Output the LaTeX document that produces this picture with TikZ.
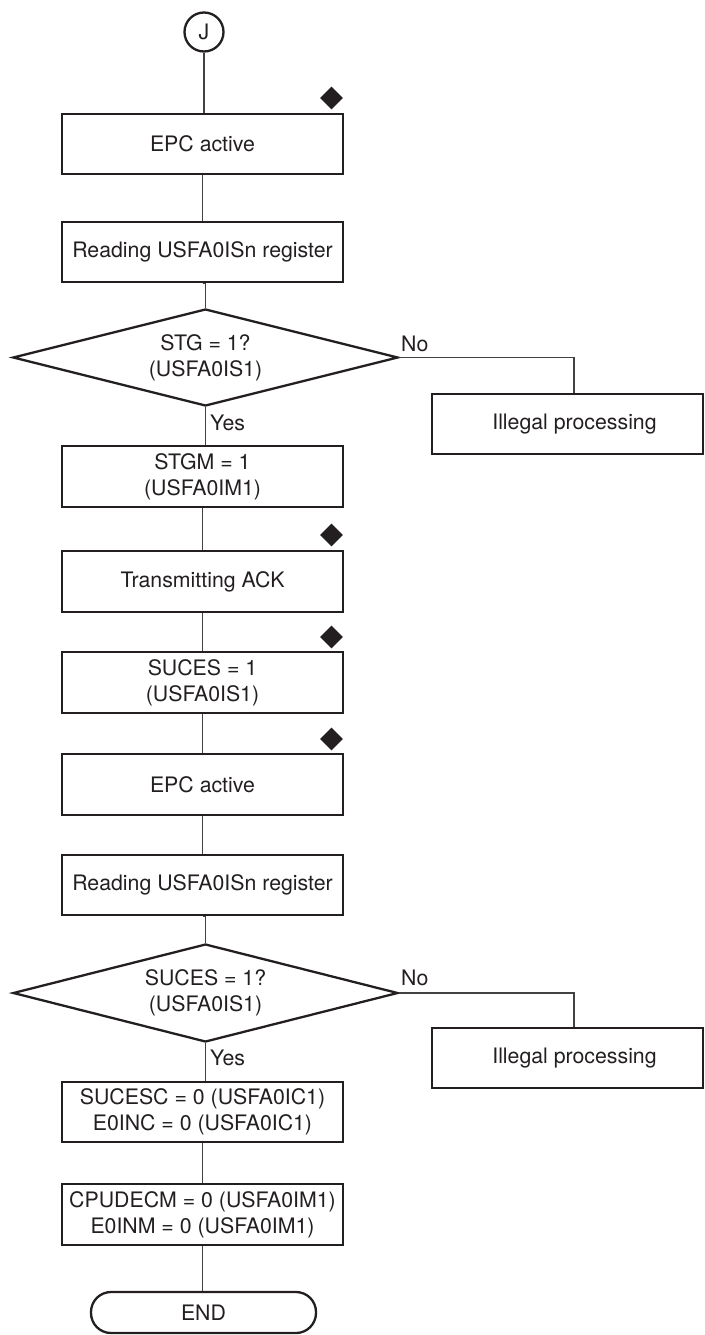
\documentclass[tikz,border=0pt]{standalone}
\usepackage{fontspec}
\setmainfont{TeX Gyre Heros}
\usetikzlibrary{shapes.geometric}
\definecolor{ink}{HTML}{231F20}
\tikzset{
  every node/.style={text=ink, font=\fontsize{21.3}{26}\selectfont},
  procbox/.style={draw=ink, line width=2.3pt, rectangle, minimum width=281pt,
    minimum height=60pt, inner sep=0pt, align=center},
  sidebox/.style={procbox, minimum width=271pt},
  decision/.style={draw=ink, line width=2.3pt, diamond, aspect=4, inner sep=0pt,
    minimum width=385pt, minimum height=97pt, align=center},
  marker/.style={diamond, fill=ink, draw=none, inner sep=0pt, minimum size=23pt},
  terminal/.style={draw=ink, line width=2.3pt, rectangle, rounded corners=20pt,
    minimum width=225pt, minimum height=41pt, inner sep=0pt},
  connector/.style={draw=ink!85, line width=1.1pt},
  branchlabel/.style={anchor=base west, inner sep=0pt}
}
\begin{document}
\begin{tikzpicture}[x=1pt, y=-1pt]
  \useasboundingbox (0,0) rectangle (704,1335);

  % main column
  \node[draw=ink, line width=2.3pt, circle, minimum size=39pt, inner sep=0pt] (J) at (204,32) {J};
  \node[procbox] (epc1) at (202.5,144) {EPC active};
  \node[procbox] (read1) at (202.5,252) {Reading USFA0ISn register};
  \node[decision] (d1) at (205.5,357.5) {STG = 1?\\(USFA0IS1)};
  \node[procbox, minimum height=61pt] (stgm) at (202.5,476.5) {STGM = 1\\(USFA0IM1)};
  \node[procbox, minimum height=61pt] (ack) at (202.5,581.5) {Transmitting ACK};
  \node[procbox, minimum height=61pt] (suces) at (202.5,682.5) {SUCES = 1\\(USFA0IS1)};
  \node[procbox, minimum height=61pt] (epc2) at (202.5,784.5) {EPC active};
  \node[procbox] (read2) at (202.5,885) {Reading USFA0ISn register};
  \node[decision, minimum height=98pt] (d2) at (205.5,993) {SUCES = 1?\\(USFA0IS1)};
  \node[procbox] (sucesc) at (202.5,1112) {SUCESC = 0 (USFA0IC1)\\E0INC = 0 (USFA0IC1)};
  \node[procbox, minimum height=61pt] (cpu) at (202.5,1214.5) {CPUDECM = 0 (USFA0IM1)\\E0INM = 0 (USFA0IM1)};
  \node[terminal] (end) at (203.5,1312.5) {END};

  % side branches
  \node[sidebox] (ill1) at (567.5,424) {\hspace*{14pt}Illegal processing};
  \node[sidebox] (ill2) at (567.5,1058) {\hspace*{14pt}Illegal processing};

  % markers
  \node[marker] (m1) at (331.5,98) {};
  \node[marker] (m2) at (331.5,535) {};
  \node[marker] (m3) at (331.5,637) {};
  \node[marker] (m4) at (331.5,739) {};

  % labels
  \node[branchlabel] (no1) at (401,351) {No};
  \node[branchlabel] (yes1) at (210,430) {Yes};
  \node[branchlabel] (no2) at (401,985) {No};
  \node[branchlabel] (yes2) at (210,1065) {Yes};

  % connectors
  \draw[connector] (J) -- (J |- epc1.north);
  \draw[connector] (epc1) -- (read1);
  \draw[connector] (read1.south) -- (read1.south -| d1.north) -- (d1.north);
  \draw[connector] (d1.south) -- (d1.south |- stgm.north);
  \draw[connector] (stgm) -- (ack);
  \draw[connector] (ack) -- (suces);
  \draw[connector] (suces) -- (epc2);
  \draw[connector] (epc2) -- (read2);
  \draw[connector] (read2.south) -- (read2.south -| d2.north) -- (d2.north);
  \draw[connector] (d2.south) -- (d2.south |- sucesc.north);
  \draw[connector] (sucesc) -- (cpu);
  \draw[connector] (cpu) -- (cpu |- end.north);
  \draw[connector] (d1.east) -| ([xshift=6.5pt]ill1.north);
  \draw[connector] (d2.east) -| ([xshift=6.5pt]ill2.north);
\end{tikzpicture}
\end{document}
